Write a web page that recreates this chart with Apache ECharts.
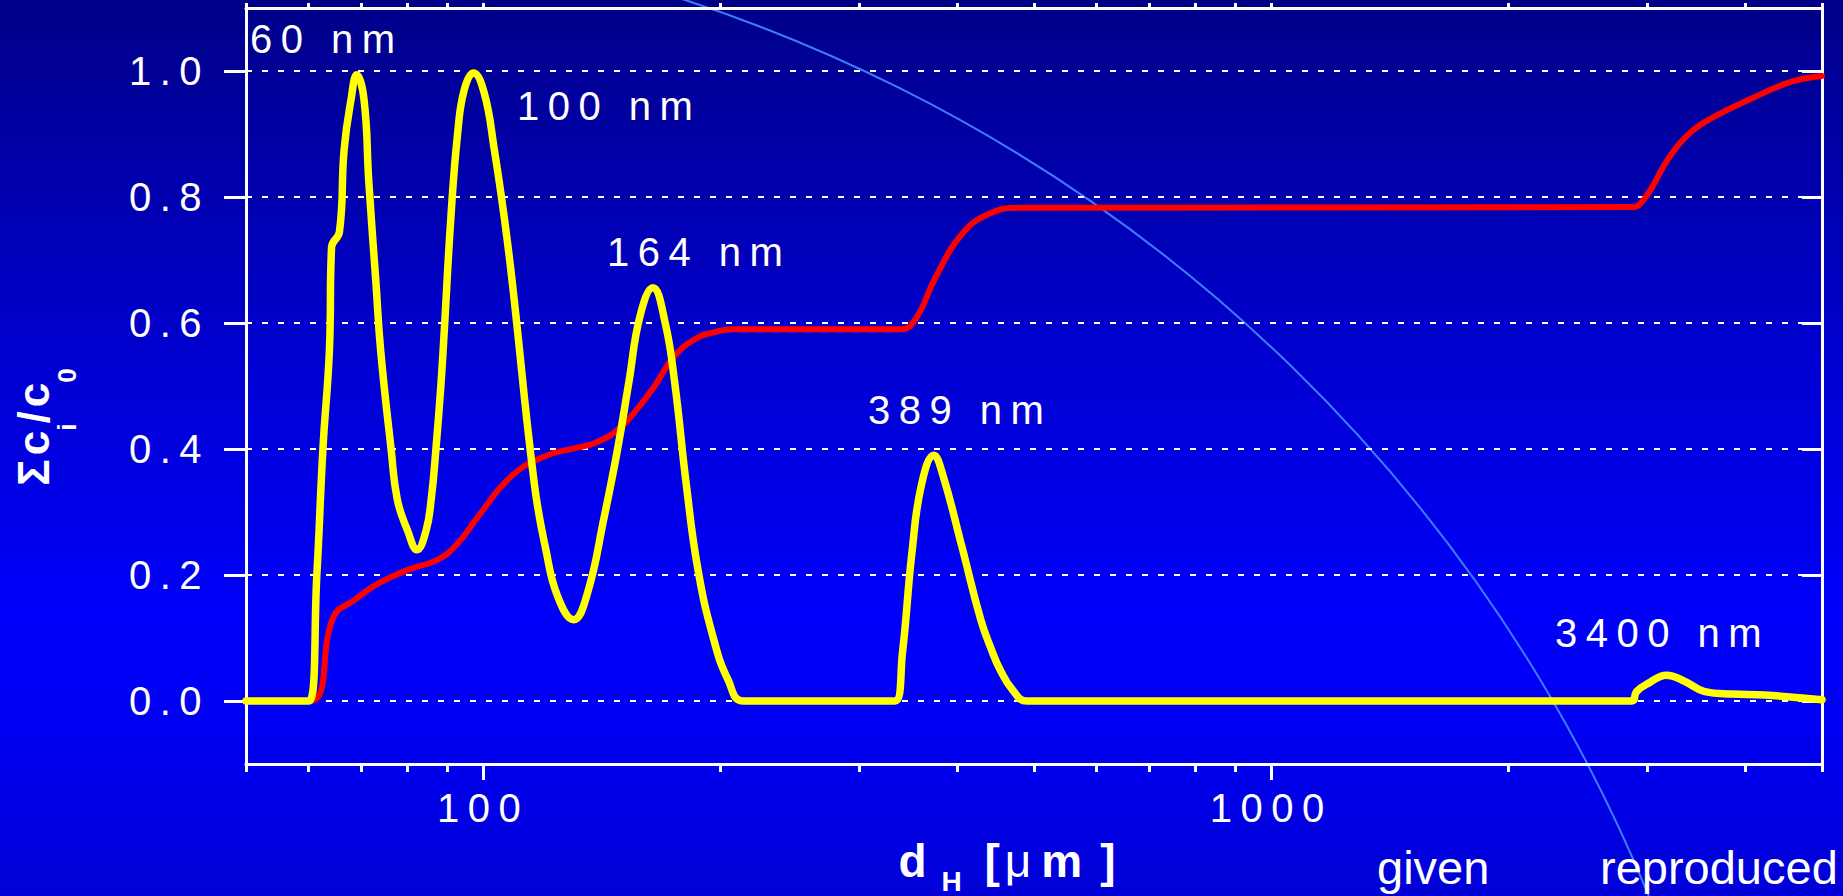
<!DOCTYPE html>
<html>
<head>
<meta charset="utf-8">
<script src="https://cdn.jsdelivr.net/npm/echarts@6/dist/echarts.min.js"></script>
<style>
html, body { margin: 0; padding: 0; background: #0000d0; overflow: hidden; }
#chart { width: 1843px; height: 896px; }
#chart text { letter-spacing: 8.5px; }
</style>
</head>
<body>
<div id="chart"></div>
<script>
// ---- data ----
// yellow curve: size distribution
const given_d = [50, 60.1, 61.5, 62.6, 63.8, 64.2, 65.7, 66.6, 67.95, 69.1,
  70.6, 71.6, 73.1, 74.1, 76.4, 77.8, 80.2, 82.4, 84.6, 85.9, 87.1,
  88.4, 89.2, 91.0, 92.8, 94.6, 97.2, 100.3, 103.3, 106.3, 108.9,
  116.1, 120.1, 124.3, 130.2, 135.6, 142.4, 148.0, 153.0,
  158.2, 164.2, 170.2, 175.0, 181.0, 187.2, 195.7, 204.6, 214, 333,
  340.4, 350.1, 360, 373.2, 382.8, 405, 428, 441.4, 452.7, 470, 489.7, 2866,
  2908, 3009, 3175, 3350, 3550, 3838, 4232, 5000];
const given_c = [0, 0, 0.2, 0.4, 0.557, 0.72, 0.745, 0.875, 0.954, 0.994,
  0.954, 0.822, 0.663, 0.557, 0.40, 0.32, 0.27, 0.240, 0.27, 0.32, 0.40,
  0.504, 0.583, 0.769, 0.901, 0.970, 0.997, 0.965, 0.875, 0.769, 0.663,
  0.345, 0.240, 0.166, 0.129, 0.171, 0.292, 0.398, 0.505,
  0.612, 0.656, 0.60, 0.505, 0.344, 0.210, 0.102, 0.033, 0, 0,
  0.076, 0.237, 0.344, 0.390, 0.360, 0.245, 0.129, 0.082, 0.050, 0.017, 0, 0,
  0.015, 0.028, 0.041, 0.031, 0.015, 0.011, 0.0095, 0.002];
// red curve: cumulative
const cum_d = [50, 60.1, 64.6, 68.6, 73.4, 80.9, 87.5, 92.8, 98.4, 108.4,
  119.5, 130.4, 138.3, 148.0, 156.5, 165, 175.0, 187.2, 196, 207,
  338.5, 354, 374.5, 405, 438, 478.6, 2866, 2987, 3184, 3395,
  3618, 4113, 4575, 5000];
const cum_c = [0, 0, 0.134, 0.160, 0.186, 0.210, 0.224, 0.250, 0.292, 0.356,
  0.388, 0.401, 0.409, 0.430, 0.462, 0.50, 0.548, 0.577, 0.585, 0.590,
  0.590, 0.607, 0.671, 0.741, 0.773, 0.783, 0.784, 0.800, 0.859, 0.901,
  0.925, 0.959, 0.983, 0.992];

const yTicks = [0, 0.2, 0.4, 0.6, 0.8, 1.0];
const xMajorTicks = [100, 1000];
const xMinorTicks = [50, 60, 70, 80, 90, 200, 300, 400, 500, 600, 700, 800, 900, 2000, 3000, 4000, 5000];
const peakLabels = ['60 nm', '100 nm', '164 nm', '389 nm', '3400 nm'];
const legendWords = ['given', 'reproduced'];

// ---- chart ----
const FONT = '"Liberation Sans", Arial, sans-serif';
const W = '#ffffff';
const pairs = (xs, ys) => xs.map((x, i) => [x, ys[i]]);
const nameChars = ['d', 'H', '[', 'μ', 'm', ']', 'Σ', 'c', 'i', '/', '0'];

const chart = echarts.init(document.getElementById('chart'), null, { renderer: 'svg', width: 1843, height: 896 });

const labelPos = [[250, 39], [517, 106], [607, 252], [868, 410], [1555, 633]];

const option = {
  animation: false,
  textStyle: { fontFamily: FONT },
  grid: { left: 246, right: 21, top: 8, bottom: 132, containLabel: false, outerBoundsMode: 'none' },
  xAxis: [
    {
      type: 'log', logBase: 10, min: 50, max: 5000, position: 'bottom', gridIndex: 0,
      axisLine: { show: true, onZero: false, lineStyle: { color: W, width: 3 } },
      axisTick: { show: true, inside: false, length: 8, customValues: xMinorTicks, lineStyle: { color: W, width: 3 } },
      axisLabel: { show: false },
      splitLine: { show: false }, minorTick: { show: false }
    },
    {
      type: 'log', logBase: 10, min: 50, max: 5000, position: 'bottom', gridIndex: 0,
      axisLine: { show: false, onZero: false },
      axisTick: { show: true, inside: false, length: 16, customValues: xMajorTicks, lineStyle: { color: W, width: 3 } },
      axisLabel: {
        show: true, customValues: xMajorTicks, margin: 24, color: W, fontSize: 40, fontFamily: FONT,
        formatter: v => String(Math.round(v))
      },
      splitLine: { show: false },
      name: '{b|d}{h|H}{lb| [}{mu|μ}{m|m}{rb|]}',
      nameLocation: 'middle', nameGap: 74,
      nameTextStyle: {
        color: W, padding: [0, 54, 0, 0],
        rich: {
          b: { fontSize: 46, fontWeight: 'bold', color: W, lineHeight: 46, verticalAlign: 'top', fontFamily: FONT },
          h: { fontSize: 28, fontWeight: 'bold', color: W, lineHeight: 28, verticalAlign: 'top', padding: [29, 0, 0, 15], fontFamily: FONT },
          lb: { fontSize: 46, fontWeight: 'bold', color: W, lineHeight: 46, verticalAlign: 'top', padding: [0, 0, 0, 10], fontFamily: FONT },
          mu: { fontSize: 46, fontWeight: 'normal', color: W, lineHeight: 46, verticalAlign: 'top', padding: [0, 0, 0, 5], fontFamily: FONT },
          m: { fontSize: 46, fontWeight: 'bold', color: W, lineHeight: 46, verticalAlign: 'top', padding: [0, 0, 0, 10], fontFamily: FONT },
          rb: { fontSize: 46, fontWeight: 'bold', color: W, lineHeight: 46, verticalAlign: 'top', padding: [0, 0, 0, 18], fontFamily: FONT }
        }
      }
    },
    {
      type: 'log', logBase: 10, min: 50, max: 5000, position: 'top', gridIndex: 0,
      axisLine: { show: true, onZero: false, lineStyle: { color: W, width: 3 } },
      axisTick: { show: true, inside: false, length: 5, customValues: xMinorTicks.concat(xMajorTicks), lineStyle: { color: W, width: 3 } },
      axisLabel: { show: false },
      splitLine: { show: false }
    }
  ],
  yAxis: [
    {
      type: 'value', min: -0.1, max: 1.1, position: 'left', gridIndex: 0,
      axisLine: { show: true, onZero: false, lineStyle: { color: W, width: 3 } },
      axisTick: { show: true, inside: false, length: 22, customValues: yTicks, lineStyle: { color: W, width: 3 } },
      axisLabel: {
        show: true, customValues: yTicks, margin: 36, color: W, fontSize: 40, fontFamily: FONT,
        formatter: v => v.toFixed(1)
      },
      splitLine: { show: true, lineStyle: { color: W, width: 2, type: [6, 10] } },
      name: '{b|Σ}{c|c}{s|i}{b|/}{c|c}{s|0}',
      nameLocation: 'middle', nameRotate: 90, nameGap: 187,
      nameTextStyle: {
        color: W, padding: [0, 82, 0, 0],
        rich: {
          b: { fontSize: 44, fontWeight: 'bold', color: W, lineHeight: 48, verticalAlign: 'top', fontFamily: FONT },
          c: { fontSize: 44, fontWeight: 'bold', color: W, lineHeight: 48, verticalAlign: 'top', padding: [0, 0, 0, 4], fontFamily: FONT },
          s: { fontSize: 26, fontWeight: 'bold', color: W, lineHeight: 26, verticalAlign: 'top', padding: [43, 0, 0, 0], fontFamily: FONT }
        }
      }
    },
    {
      type: 'value', min: -0.1, max: 1.1, position: 'right', gridIndex: 0,
      axisLine: { show: true, onZero: false, lineStyle: { color: W, width: 3 } },
      axisTick: { show: true, inside: true, length: 20, customValues: yTicks, lineStyle: { color: W, width: 3 } },
      axisLabel: { show: false },
      splitLine: { show: false }
    }
  ],
  series: [
    {
      name: 'cumulative', type: 'line', xAxisIndex: 0, yAxisIndex: 0,
      data: pairs(cum_d, cum_c), showSymbol: false, symbol: 'none',
      smooth: 0.45, lineStyle: { color: '#ff0000', width: 6, cap: 'round', join: 'round' }, z: 3
    },
    {
      name: 'distribution', type: 'line', xAxisIndex: 0, yAxisIndex: 0,
      data: pairs(given_d, given_c), showSymbol: false, symbol: 'none',
      smooth: 0.45, lineStyle: { color: '#ffff00', width: 7.5, cap: 'round', join: 'round' }, z: 4
    }
  ],
  graphic: [
    {
      type: 'rect', z: -100, silent: true,
      shape: { x: 0, y: 0, width: 1843, height: 896 },
      style: {
        fill: {
          type: 'linear', x: 0, y: 0, x2: 0, y2: 1,
          colorStops: [
            { offset: 0, color: '#000088' },
            { offset: 0.4, color: '#0000d0' },
            { offset: 0.68, color: '#0000fa' },
            { offset: 0.8, color: '#0000f4' },
            { offset: 1, color: '#0000d6' }
          ]
        }
      }
    },
    {
      type: 'arc', z: -50, silent: true,
      shape: { cx: 200, cy: 1488, r: 1565, startAngle: -1.40, endAngle: -0.20, clockwise: true },
      style: { stroke: '#3f7bff', lineWidth: 2, fill: null }
    }
  ].concat(peakLabels.map((t, i) => ({
    type: 'text', z: 20, silent: true, x: labelPos[i][0], y: labelPos[i][1],
    style: { text: t, fill: W, font: '40px ' + FONT, textAlign: 'left', textVerticalAlign: 'middle' }
  }))).concat([
    {
      type: 'text', z: 20, silent: true, x: 1377, y: 867,
      style: { text: legendWords[0], fill: W, font: '47px ' + FONT, textAlign: 'left', textVerticalAlign: 'middle' }
    },
    {
      type: 'text', z: 20, silent: true, x: 1600, y: 867,
      style: { text: legendWords[1], fill: W, font: '47px ' + FONT, textAlign: 'left', textVerticalAlign: 'middle' }
    }
  ])
};

chart.setOption(option);

function fixSpacing() {
  document.querySelectorAll('#chart text').forEach(t => {
    const s = (t.textContent || '').trim();
    if (legendWords.indexOf(s) >= 0 || nameChars.indexOf(s) >= 0) t.style.letterSpacing = '0px';
  });
}
fixSpacing();
chart.on('finished', fixSpacing);
</script>
</body>
</html>
